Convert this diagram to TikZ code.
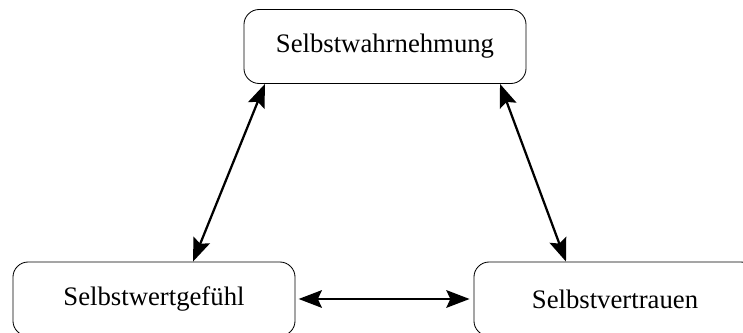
\documentclass[tikz,border=0pt]{standalone}
\usepackage{fontspec}
\setmainfont{Liberation Serif}
\usetikzlibrary{arrows.meta}
\begin{document}
\begin{tikzpicture}[x=0.025cm,y=-0.025cm,
	box/.style={draw,line width=0.6pt,rounded corners=0.38cm,minimum width=7.05cm,minimum height=1.85cm,font=\fontsize{19}{22}\selectfont},
	pfeil/.style={line width=1.6pt,{Stealth[length=0.58cm,width=0.44cm,inset=0.1cm]}-{Stealth[length=0.58cm,width=0.44cm,inset=0.1cm]}}]
			\useasboundingbox (0,0) rectangle (743,333);
			
			\node[box] (wahr) at (385,46.5) {Selbstwahrnehmung};
			\node[box] (gefuehl) at (154,299) {Selbstwertgefühl};
			\node[box] (vertrauen) at (615,299) {Selbstvertrauen};
			
			\draw[pfeil] ([xshift=0.975cm]gefuehl.north) -- ([xshift=-3cm]wahr.south);
			\draw[pfeil] ([xshift=2.875cm]wahr.south) -- ([xshift=-1.225cm]vertrauen.north);
			\draw[pfeil,shorten <=0.08cm,shorten >=0.1cm] (gefuehl.east) -- (vertrauen.west);
			
		\end{tikzpicture}
\end{document}
